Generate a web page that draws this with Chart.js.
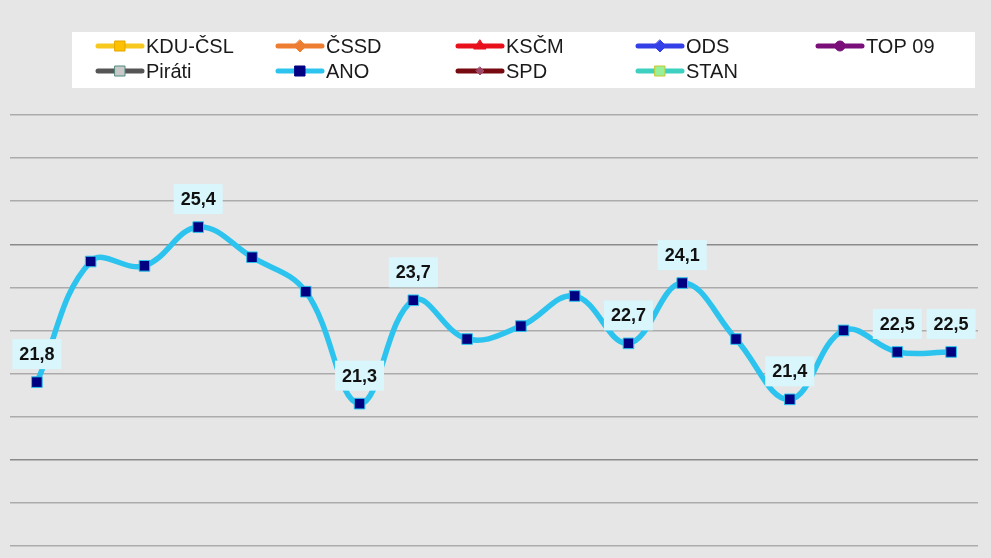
<!DOCTYPE html>
<html>
<head>
<meta charset="utf-8">
<script src="https://cdn.jsdelivr.net/npm/chart.js@4.4.1/dist/chart.umd.min.js"></script>
<style>
  html, body { margin: 0; padding: 0; background: #e6e6e6; }
  #wrap { width: 991px; height: 558px; position: relative; }
</style>
</head>
<body>
<div id="wrap"><canvas id="c" width="991" height="558"></canvas></div>
<script>
// ---- data ----
const categories = ["1","2","3","4","5","6","7","8","9","10","11","12","13","14","15","16","17","18"];
const anoValues = [21.8, 24.6, 24.5, 25.4, 24.7, 23.9, 21.3, 23.7, 22.8, 23.1, 23.8, 22.7, 24.1, 22.8, 21.4, 23.0, 22.5, 22.5];
const labeledIndices = [0, 3, 6, 7, 11, 12, 14, 16, 17];
const tickValues = [18, 19, 20, 21, 22, 23, 24, 25, 26, 27, 28];
const majorTicks = [20, 25];
const legendNames = ["KDU-ČSL", "ČSSD", "KSČM", "ODS", "TOP 09", "Piráti", "ANO", "SPD", "STAN"];
const legendLineColors = ["#f7c81e", "#ed7d31", "#e8101a", "#3340e8", "#7a0f7a", "#555555", "#2cc4ee", "#760a10", "#3dcfc0"];
const legendMarkerFill = ["#ffc000", "#ed7d31", "#e8101a", "#3340e8", "#7a0f7a", "#c9c9c9", "#000080", "#a04868", "#98f098"];
const legendMarkerBorder = ["#e0a800", "#ed7d31", "#e8101a", "#3340e8", "#7a0f7a", "#4f8a7e", "#000080", "#a04868", "#c8c830"];
const legendMarkerShape = ["square", "diamond", "triangle", "diamond", "circle", "square", "square", "smalldiamond", "square"];

const fmt = v => v.toFixed(1).replace('.', ',');

const legendPlugin = {
  id: 'customLegend',
  afterDraw(chart) {
    const ctx = chart.ctx;
    ctx.save();
    ctx.fillStyle = '#ffffff';
    ctx.fillRect(72, 32, 903, 56);
    legendNames.forEach((name, i) => {
      const col = i % 5, row = Math.floor(i / 5);
      const x = 98 + col * 180;
      const y = 46 + row * 25;
      ctx.strokeStyle = legendLineColors[i];
      ctx.lineWidth = 5;
      ctx.lineCap = 'round';
      ctx.beginPath();
      ctx.moveTo(x, y); ctx.lineTo(x + 44, y); ctx.stroke();
      const mx = x + 22;
      ctx.fillStyle = legendMarkerFill[i];
      ctx.strokeStyle = legendMarkerBorder[i];
      ctx.lineWidth = 1;
      ctx.beginPath();
      const s = legendMarkerShape[i];
      if (s === 'square') { ctx.rect(mx - 5, y - 5, 10, 10); }
      else if (s === 'diamond') { ctx.moveTo(mx, y - 6); ctx.lineTo(mx + 6, y); ctx.lineTo(mx, y + 6); ctx.lineTo(mx - 6, y); ctx.closePath(); }
      else if (s === 'smalldiamond') { ctx.moveTo(mx, y - 4); ctx.lineTo(mx + 4, y); ctx.lineTo(mx, y + 4); ctx.lineTo(mx - 4, y); ctx.closePath(); }
      else if (s === 'triangle') { ctx.moveTo(mx, y - 6); ctx.lineTo(mx + 6, y + 3); ctx.lineTo(mx - 6, y + 3); ctx.closePath(); }
      else { ctx.arc(mx, y, 5, 0, Math.PI * 2); }
      ctx.fill(); ctx.stroke();
      ctx.fillStyle = '#1a1a1a';
      ctx.font = '20px "Liberation Sans", Arial, sans-serif';
      ctx.textBaseline = 'middle';
      ctx.textAlign = 'left';
      ctx.fillText(name, x + 48, y + 1);
    });
    ctx.restore();
  }
};

const labelPlugin = {
  id: 'valueLabels',
  afterDatasetsDraw(chart) {
    const ctx = chart.ctx;
    const meta = chart.getDatasetMeta(0);
    ctx.save();
    ctx.font = 'bold 18px "Liberation Sans", Arial, sans-serif';
    ctx.textAlign = 'center';
    ctx.textBaseline = 'middle';
    labeledIndices.forEach(i => {
      const pt = meta.data[i];
      const txt = fmt(anoValues[i]);
      const w = ctx.measureText(txt).width + 14;
      const h = 30;
      const cx = pt.x, cy = pt.y - 28;
      ctx.fillStyle = '#d8f6fb';
      ctx.fillRect(cx - w / 2, cy - h / 2, w, h);
      ctx.fillStyle = '#111111';
      ctx.fillText(txt, cx, cy + 1);
    });
    ctx.restore();
  }
};

new Chart(document.getElementById('c'), {
  type: 'line',
  data: {
    labels: categories,
    datasets: [{
      label: 'ANO',
      data: anoValues,
      borderColor: '#2cc4ee',
      borderWidth: 5.5,
      tension: 0.4,
      pointStyle: 'rect',
      pointRadius: 7.5,
      pointBackgroundColor: '#000080',
      pointBorderColor: '#2cc4ee',
      pointBorderWidth: 1,
      fill: false
    }]
  },
  options: {
    responsive: false,
    animation: false,
    events: [],
    layout: { padding: { left: 10, right: 13, top: 94, bottom: 0 } },
    plugins: { legend: { display: false }, tooltip: { enabled: false } },
    scales: {
      x: { display: false, offset: true },
      y: {
        min: 17.913,
        max: 28.49,
        afterBuildTicks: axis => { axis.ticks = tickValues.map(v => ({ value: v })); },
        ticks: { display: false },
        border: { display: false },
        grid: {
          drawTicks: false,
          lineWidth: 1.5,
          color: c => majorTicks.includes(c.tick && c.tick.value) ? '#8a8a8a' : '#ababab'
        }
      }
    }
  },
  plugins: [labelPlugin, legendPlugin]
});
</script>
</body>
</html>
